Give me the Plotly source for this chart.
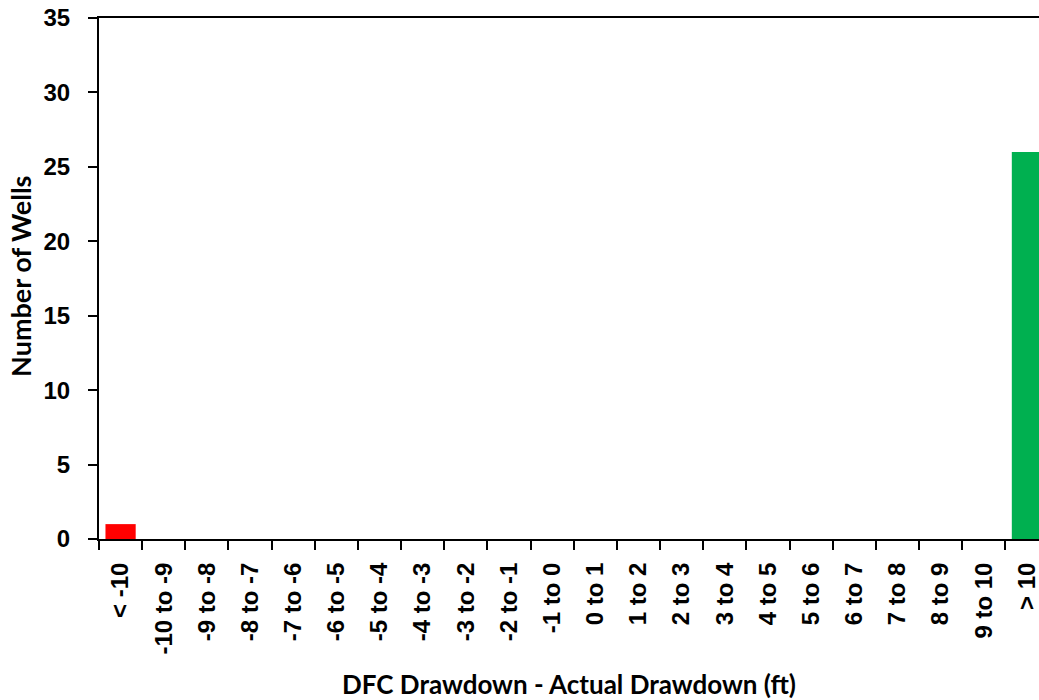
import plotly.graph_objects as go

# Histogram bins of drawdown difference (ft)
categories = ["< -10", "-10 to -9", "-9 to -8", "-8 to -7", "-7 to -6", "-6 to -5",
              "-5 to -4", "-4 to -3", "-3 to -2", "-2 to -1", "-1 to 0", "0 to 1",
              "1 to 2", "2 to 3", "3 to 4", "4 to 5", "5 to 6", "6 to 7", "7 to 8",
              "8 to 9", "9 to 10", "> 10"]
well_counts = [1, 0, 0, 0, 0, 0, 0, 0, 0, 0, 0, 0, 0, 0, 0, 0, 0, 0, 0, 0, 0, 26]
y_ticks = [0, 5, 10, 15, 20, 25, 30, 35]

RED = "#FF0000"
GREEN = "#00B050"
bar_colors = [RED if i < 11 else GREEN for i in range(len(categories))]

tick_font = dict(family="Liberation Sans", size=24, color="black", weight="bold")
xtitle_font = dict(family="Lato", size=26, color="black", weight="bold")
ytitle_font = dict(family="Lato", size=27, color="black", weight="bold")

fig = go.Figure(
    go.Bar(
        x=categories,
        y=well_counts,
        marker=dict(color=bar_colors, line=dict(width=0)),
        hoverinfo="x+y",
    )
)

fig.update_layout(
    width=1039,
    height=700,
    margin=dict(l=99, r=0, t=18, b=161, autoexpand=False),
    paper_bgcolor="white",
    plot_bgcolor="white",
    bargap=0.3,
    showlegend=False,
    annotations=[
        dict(text="DFC Drawdown - Actual Drawdown (ft)", xref="paper", yref="paper",
             x=0.5, y=-0.279, xanchor="center", yanchor="middle",
             showarrow=False, font=xtitle_font),
        dict(text="Number of Wells", xref="paper", yref="paper",
             x=-0.083, y=0.505, xanchor="center", yanchor="middle", textangle=-90,
             showarrow=False, font=ytitle_font),
    ],
)

fig.update_xaxes(
    type="category",
    range=[-0.5, 21.28],
    tickson="boundaries",
    ticks="outside",
    ticklen=9,
    tickwidth=2,
    tickcolor="black",
    tickangle=-90,
    tickfont=tick_font,
    ticklabelstandoff=12,
    showline=True,
    linecolor="black",
    linewidth=2,
    mirror=True,
    showgrid=False,
    zeroline=False,
    automargin=False,
)

fig.update_yaxes(
    range=[0, 35],
    tickvals=y_ticks,
    ticks="outside",
    ticklen=9,
    tickwidth=2,
    tickcolor="black",
    tickfont=tick_font,
    ticklabelstandoff=13,
    showline=True,
    linecolor="black",
    linewidth=2,
    mirror=False,
    showgrid=False,
    zeroline=False,
    automargin=False,
)

fig.write_html("out.html")
